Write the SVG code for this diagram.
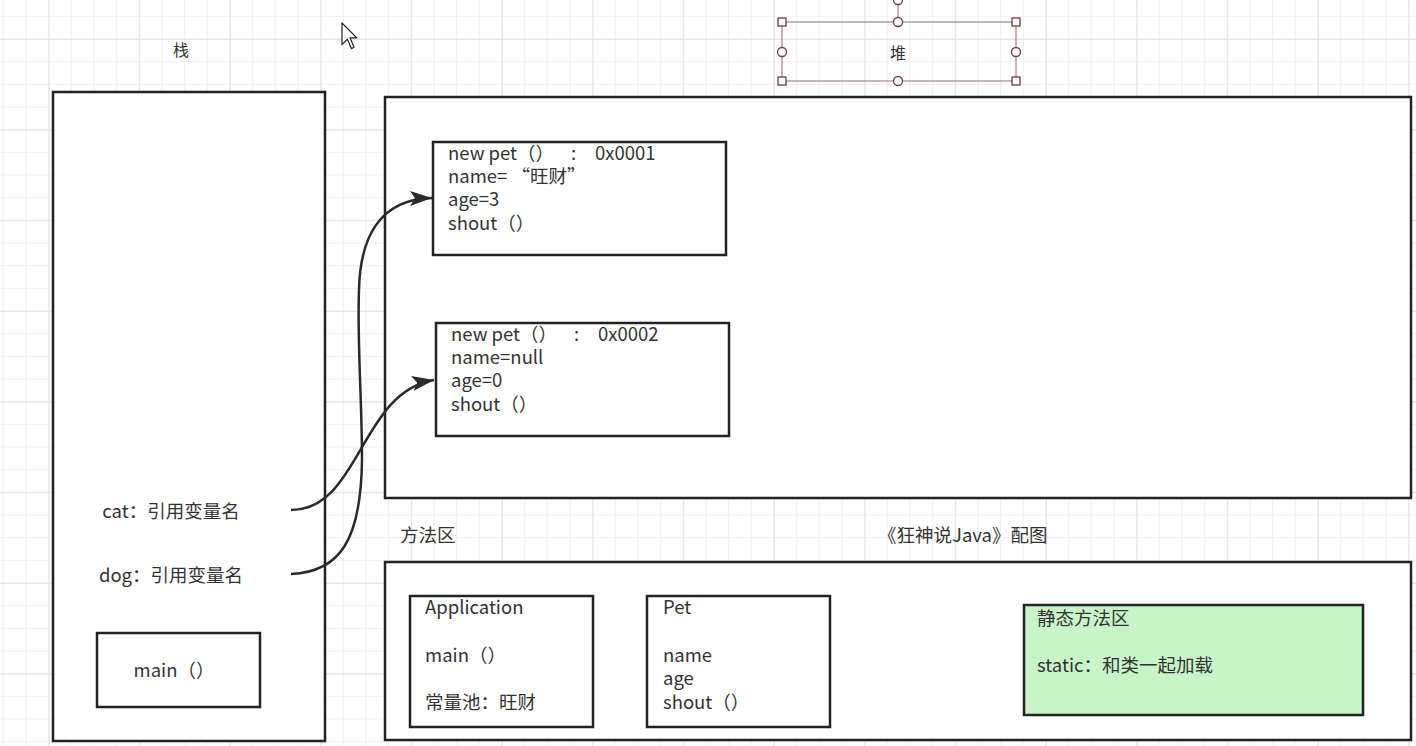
<svg xmlns="http://www.w3.org/2000/svg" width="1416" height="746" viewBox="0 0 1416 746">
<defs>
<pattern id="minor" patternUnits="userSpaceOnUse" x="2.8" y="15.8" width="22.667" height="22.667">
<path d="M0 0.5 H22.667 M0.5 0 V22.667" stroke="#f0f0f0" stroke-width="1" fill="none"/>
</pattern>
<pattern id="major" patternUnits="userSpaceOnUse" x="48.5" y="38.8" width="90.667" height="90.667">
<path d="M0 0.5 H90.667 M0.5 0 V90.667" stroke="#e2e2e2" stroke-width="1" fill="none"/>
</pattern>
<marker id="arrow" markerUnits="userSpaceOnUse" markerWidth="24" markerHeight="16" refX="22" refY="7.5" orient="auto">
<path d="M0 0 L22 7.5 L0 15 L5 7.5 Z" fill="#2a2a2a"/>
</marker>
<style>
.box{fill:#fff;stroke:#222;stroke-width:2.5}
.t{font-family:"Noto Sans CJK SC","Noto Sans",sans-serif;font-size:18.5px;fill:#333}
.s{font-family:"Noto Sans CJK SC","Noto Sans",sans-serif;font-size:16px;fill:#333}
.edge{fill:none;stroke:#2a2a2a;stroke-width:2.5}
.hl{fill:none;stroke:#8a6a6a;stroke-width:1}
.hs{fill:#fff;stroke:#6e3a3a;stroke-width:1.3}
</style>
</defs>
<rect width="1416" height="746" fill="#fff"/>
<rect width="1416" height="746" fill="url(#minor)"/>
<rect width="1416" height="746" fill="url(#major)"/>

<g id="stack-label"><text class="s" x="181" y="56" text-anchor="middle">栈</text></g>

<g id="stack">
<rect class="box" x="53" y="92" width="272" height="649"/>
</g>

<g id="heap-label">
<text class="s" x="898" y="59" text-anchor="middle">堆</text>
<rect class="hl" x="782" y="22" width="234" height="59"/>
<line class="hl" x1="898" y1="4" x2="898" y2="18"/>
<circle class="hs" cx="898" cy="0" r="4.5"/>
<rect class="hs" x="778" y="18" width="8" height="8"/>
<rect class="hs" x="1012" y="18" width="8" height="8"/>
<rect class="hs" x="778" y="77" width="8" height="8"/>
<rect class="hs" x="1012" y="77" width="8" height="8"/>
<circle class="hs" cx="898" cy="22" r="4.5"/>
<circle class="hs" cx="898" cy="81" r="4.5"/>
<circle class="hs" cx="782" cy="52" r="4.5"/>
<circle class="hs" cx="1016" cy="52" r="4.5"/>
</g>

<g id="cursor">
<polygon points="342,23 342,44.6 347.4,39.2 351.4,48.6 354.1,47.3 350.1,37.9 356.8,37.9" fill="#fff" stroke="#222" stroke-width="1.2" stroke-linejoin="round"/>
</g>

<g id="heap">
<rect class="box" x="385" y="97" width="1026" height="401"/>
</g>

<g id="obj1">
<rect class="box" x="433" y="142" width="293" height="113"/>
<text class="t"><tspan x="448" y="160">new pet（）</tspan><tspan x="571" y="160">:</tspan><tspan x="595" y="160">0x0001</tspan><tspan x="448" y="183">name= “旺财”</tspan><tspan x="448" y="206">age=3</tspan><tspan x="448" y="230">shout（）</tspan></text>
</g>

<g id="obj2">
<rect class="box" x="436" y="323" width="293" height="113"/>
<text class="t"><tspan x="451" y="341">new pet（）</tspan><tspan x="574" y="341">:</tspan><tspan x="598" y="341">0x0002</tspan><tspan x="451" y="364">name=null</tspan><tspan x="451" y="387">age=0</tspan><tspan x="451" y="411">shout（）</tspan></text>
</g>

<g id="cat-ref"><text class="t" x="171" y="518" text-anchor="middle">cat：引用变量名</text></g>
<g id="dog-ref"><text class="t" x="171" y="582" text-anchor="middle">dog：引用变量名</text></g>

<g id="main-frame">
<rect class="box" x="97" y="633" width="163" height="74"/>
<text class="t" x="174" y="677" text-anchor="middle">main（）</text>
</g>

<g id="method-label"><text class="t" x="400" y="542">方法区</text></g>
<g id="caption"><text class="t" x="878" y="542">《狂神说Java》配图</text></g>

<g id="method-area">
<rect class="box" x="385" y="562" width="1026" height="178"/>
</g>

<g id="app-class">
<rect class="box" x="410" y="596" width="183" height="131"/>
<text class="t" x="425" y="614">Application</text>
<text class="t" x="425" y="662">main（）</text>
<text class="t" x="425" y="709">常量池：旺财</text>
</g>

<g id="pet-class">
<rect class="box" x="647" y="596" width="183" height="131"/>
<text class="t" x="663" y="614">Pet</text>
<text class="t"><tspan x="663" y="662">name</tspan><tspan x="663" y="685">age</tspan><tspan x="663" y="709">shout（）</tspan></text>
</g>

<g id="static-area">
<rect x="1024" y="605" width="339" height="110" fill="#c8f5c8" stroke="#222" stroke-width="2.5"/>
<text class="t" x="1037" y="625">静态方法区</text>
<text class="t" x="1037" y="672">static：和类一起加载</text>
</g>

<g id="connectors">
<path class="edge" marker-end="url(#arrow)" d="M291 510 C360 510 360 392 434 380"/>
<path class="edge" marker-end="url(#arrow)" d="M291 574 C340 572 361 540 362 460 C362 400 357 340 359 290 C360 240 378 199 432 198"/>
</g>
</svg>
